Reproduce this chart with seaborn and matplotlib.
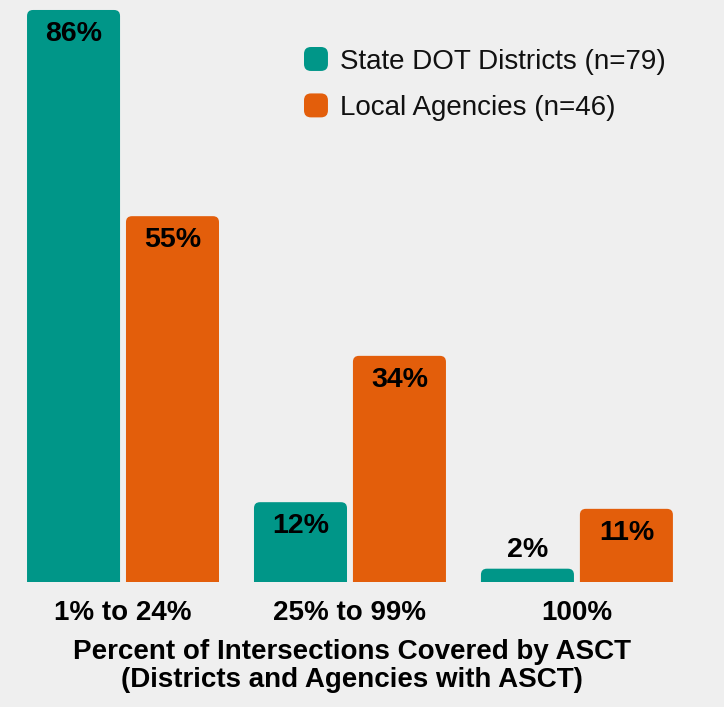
import pandas as pd
import matplotlib.pyplot as plt
import seaborn as sns
from matplotlib.patches import FancyBboxPatch
from matplotlib.legend_handler import HandlerPatch

# chart values
categories = ["1% to 24%", "25% to 99%", "100%"]
series_names = ["State DOT Districts (n=79)", "Local Agencies (n=46)"]
state_dot = [86, 12, 2]
local_agencies = [55, 34, 11]

colors = ["#009688", "#e35e0b"]
bg = "#efefef"

df = pd.DataFrame({
    "category": categories * 2,
    "group": [series_names[0]] * 3 + [series_names[1]] * 3,
    "value": state_dot + local_agencies,
})

sns.set_theme(style="white")
plt.rcParams["font.family"] = ["Liberation Sans", "DejaVu Sans"]

fig = plt.figure(figsize=(7.24, 7.07), dpi=100, facecolor=bg)
ax = fig.add_axes([0, 125 / 707, 1, 582 / 707])
ax.set_facecolor(bg)

sns.barplot(data=df, x="category", y="value", hue="group", palette=colors,
            saturation=1, width=0.872, gap=0.06, legend=False, ax=ax)

ax.set_xlim(-0.542, 2.648)
ax.set_ylim(0, 87.5)
sns.despine(ax=ax, left=True, bottom=True)
ax.set_yticks([])
ax.set_ylabel("")
ax.set_xlabel("")
ax.tick_params(axis="x", length=0, pad=13)
for lab in ax.get_xticklabels():
    lab.set_fontsize(20)
    lab.set_fontweight("bold")
    lab.set_color("black")

# rounded tops
fig_w, fig_h = fig.get_size_inches() * fig.dpi
px_x = fig_w / (2.648 + 0.542)
px_y = fig_h * 582 / 707 / 87.5
aspect = px_x / px_y
r = 6 / px_x
bars = list(ax.patches)
for p in bars:
    x, y = p.get_x(), p.get_y()
    w, h = p.get_width(), p.get_height()
    fc = p.get_facecolor()
    p.remove()
    fb = FancyBboxPatch((x, y - 3), w, h + 3,
                        boxstyle=f"round,pad=0,rounding_size={r}",
                        mutation_aspect=aspect, fc=fc, ec="none")
    ax.add_patch(fb)
    if h < 5:
        ax.annotate(f"{h:.0f}%", (x + w / 2, h), xytext=(0, 4),
                    textcoords="offset points", ha="center", va="bottom",
                    fontsize=20.5, fontweight="bold", color="black")
    else:
        ax.annotate(f"{h:.0f}%", (x + w / 2, h), xytext=(0, -8),
                    textcoords="offset points", ha="center", va="top",
                    fontsize=20.5, fontweight="bold", color="black")


class RoundHandler(HandlerPatch):
    def create_artists(self, legend, orig_handle, xdescent, ydescent,
                       width, height, fontsize, trans):
        s = min(width, height)
        p = FancyBboxPatch((-xdescent, -ydescent + (height - s) / 2), s, s,
                           boxstyle="round,pad=0,rounding_size=5",
                           fc=orig_handle.get_facecolor(), ec="none",
                           transform=trans)
        return [p]


handles = [plt.Rectangle((0, 0), 1, 1, fc=c) for c in colors]
leg = ax.legend(handles, series_names, loc="upper left",
                bbox_to_anchor=(304 / 724, 1 - 47 / 707), bbox_transform=fig.transFigure,
                frameon=False, fontsize=20, handlelength=0.95, handleheight=0.95,
                handletextpad=0.36, labelspacing=0.68, borderpad=0, borderaxespad=0,
                handler_map={plt.Rectangle: RoundHandler()})
for t in leg.get_texts():
    t.set_color("#111111")

fig.text(352 / 724, 1 - 666 / 707,
         "Percent of Intersections Covered by ASCT\n(Districts and Agencies with ASCT)",
         ha="center", va="center", fontsize=20, fontweight="bold",
         linespacing=1.08, color="black")

plt.savefig("out.png", dpi=100, facecolor=bg)
